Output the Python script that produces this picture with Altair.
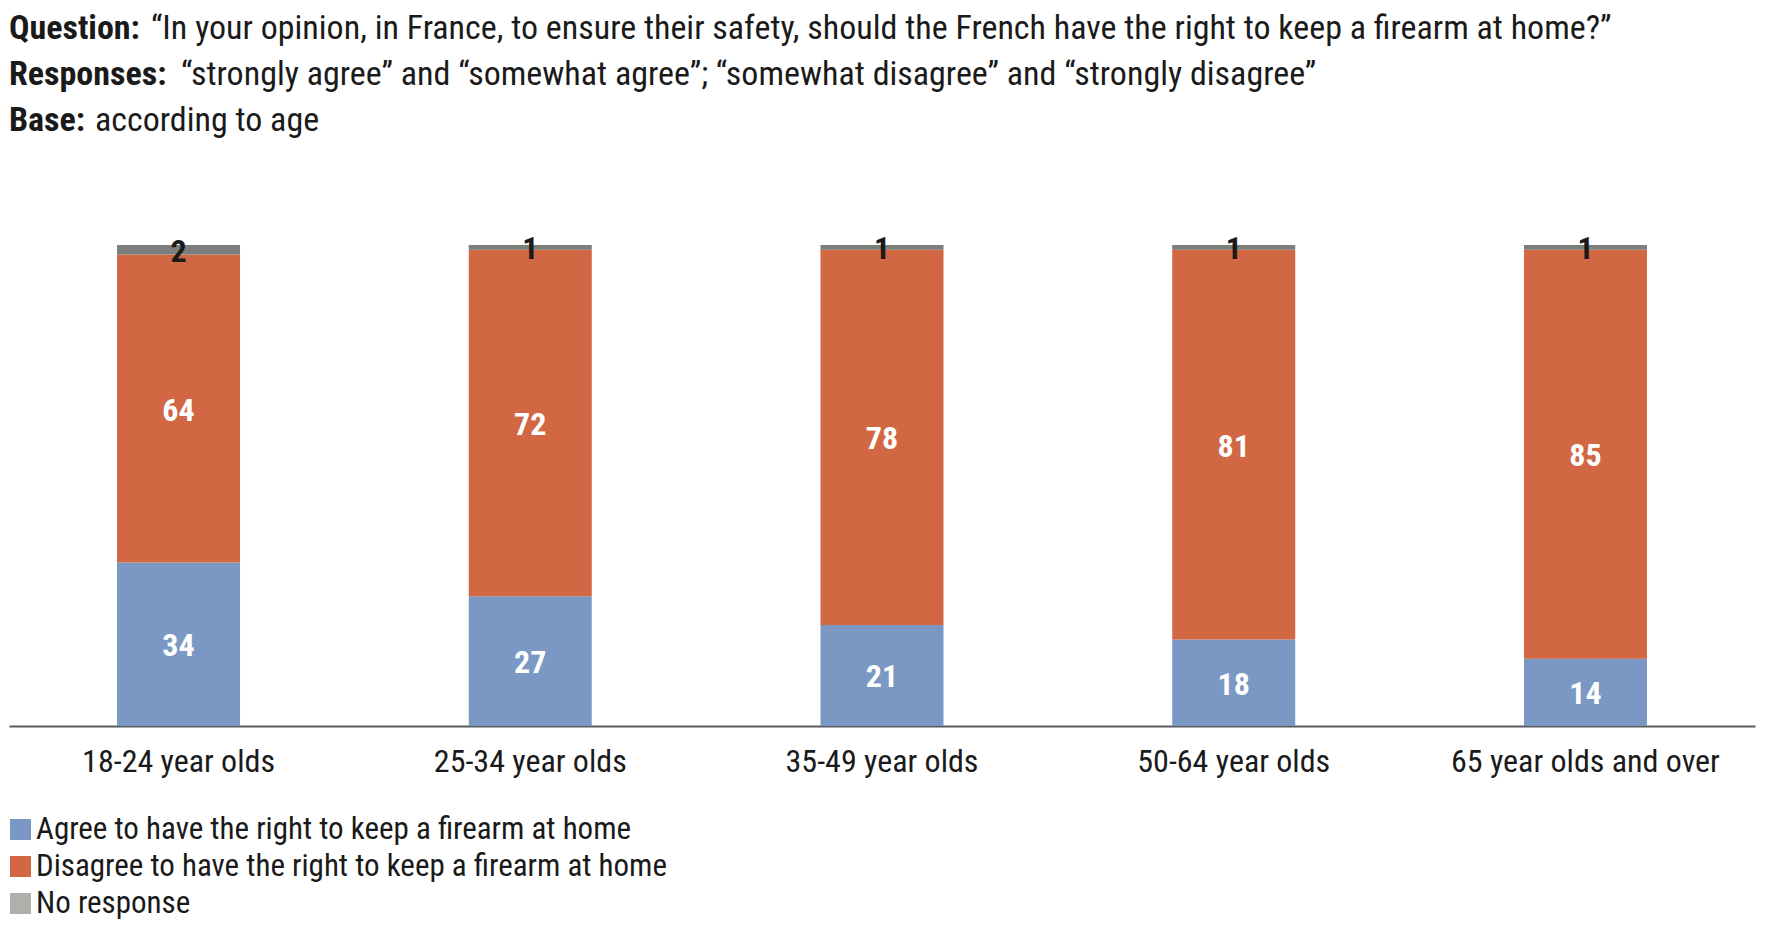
import altair as alt
import pandas as pd

# ---- data ----
ages = ["18-24 year olds", "25-34 year olds", "35-49 year olds",
        "50-64 year olds", "65 year olds and over"]
agree = [34, 27, 21, 18, 14]
disagree = [64, 72, 78, 81, 85]
no_response = [2, 1, 1, 1, 1]
series = ["Agree to have the right to keep a firearm at home",
          "Disagree to have the right to keep a firearm at home",
          "No response"]

header_bold = ["Question:", "Responses:", "Base:"]
header_rest = [
    "\u201cIn your opinion, in France, to ensure their safety, should the French have the right to keep a firearm at home?\u201d",
    "\u201cstrongly agree\u201d and \u201csomewhat agree\u201d; \u201csomewhat disagree\u201d and \u201cstrongly disagree\u201d",
    "according to age",
]

rows = []
for i, a in enumerate(ages):
    for k, vals in enumerate([agree, disagree, no_response]):
        rows.append({"age": a, "series": series[k], "ord": k, "value": vals[i]})
df = pd.DataFrame(rows)

FONT = "Roboto Condensed, Roboto, sans-serif"
TXT = "#1a1a1a"
BLUE, ORANGE, GRAY_BAR, GRAY_LEG = "#7a98c3", "#d26743", "#7b7e7a", "#b0b0ab"

x_enc = alt.X("age:N", sort=ages,
              scale=alt.Scale(paddingInner=0.65, paddingOuter=0.307),
              axis=alt.Axis(title=None, ticks=False, tickSize=0, grid=False,
                            domainColor="#5a5a5a", domainWidth=2,
                            labelFont=FONT, labelFontSize=32, labelColor=TXT,
                            labelPadding=45, labelBaseline="alphabetic",
                            labelAngle=0, labelLimit=0))
y_scale = alt.Scale(domain=[0, 100], nice=False)

base = alt.Chart(df)

bars = base.mark_bar(size=123).encode(
    x=x_enc,
    y=alt.Y("value:Q", stack="zero", scale=y_scale, axis=None),
    color=alt.Color("series:N", sort=series,
                    scale=alt.Scale(domain=series, range=[BLUE, ORANGE, GRAY_BAR]),
                    legend=None),
    order=alt.Order("ord:Q"),
)

legend_layer = base.mark_square(opacity=0).encode(
    color=alt.Color("series:N", sort=series,
                    scale=alt.Scale(domain=series, range=[BLUE, ORANGE, GRAY_LEG]),
                    legend=alt.Legend(title=None, orient="none", legendX=-4, legendY=569,
                                      direction="vertical", symbolType="square",
                                      symbolSize=441, symbolStrokeWidth=0,
                                      symbolOpacity=1, labelFont=FONT,
                                      labelFontSize=31, labelColor=TXT, labelLimit=0,
                                      labelOffset=0, rowPadding=5, padding=0)),
)

labels = base.transform_stack(
    stack="value", groupby=["age"], sort=[alt.SortField("ord", order="ascending")],
    as_=["y0", "y1"]
).transform_calculate(
    mid="(datum.y0 + datum.y1) / 2"
).mark_text(font=FONT, fontSize=32, fontWeight="bold", baseline="middle", dy=2).encode(
    x=alt.X("age:N", sort=ages),
    y=alt.Y("mid:Q", scale=y_scale),
    text=alt.Text("value:Q"),
    color=alt.condition(alt.datum.ord == 2, alt.value(TXT), alt.value("white")),
)

header_layers = []
line_y = [-206, -160, -114]
rest_x = [142, 172, 86]
for j in range(3):
    hd = pd.DataFrame({"b": [header_bold[j]], "r": [header_rest[j]]})
    header_layers.append(
        alt.Chart(hd).mark_text(font=FONT, fontSize=34, fontWeight="bold",
                                align="left", baseline="alphabetic", color=TXT)
        .encode(x=alt.value(0), y=alt.value(line_y[j]), text="b:N"))
    header_layers.append(
        alt.Chart(hd).mark_text(font=FONT, fontSize=34, align="left",
                                baseline="alphabetic", color=TXT)
        .encode(x=alt.value(rest_x[j]), y=alt.value(line_y[j]), text="r:N"))

chart = alt.layer(legend_layer, bars, labels, *header_layers).resolve_scale(
    color="independent"
).properties(
    width=1746, height=481,
    autosize=alt.AutoSizeParams(type="none"),
    padding={"left": 1, "top": 237, "right": 10, "bottom": 197},
).configure(
    background="white",
    view=alt.ViewConfig(strokeWidth=0),
)

chart.save("out.html", embed_options={"renderer": "svg", "actions": False})
